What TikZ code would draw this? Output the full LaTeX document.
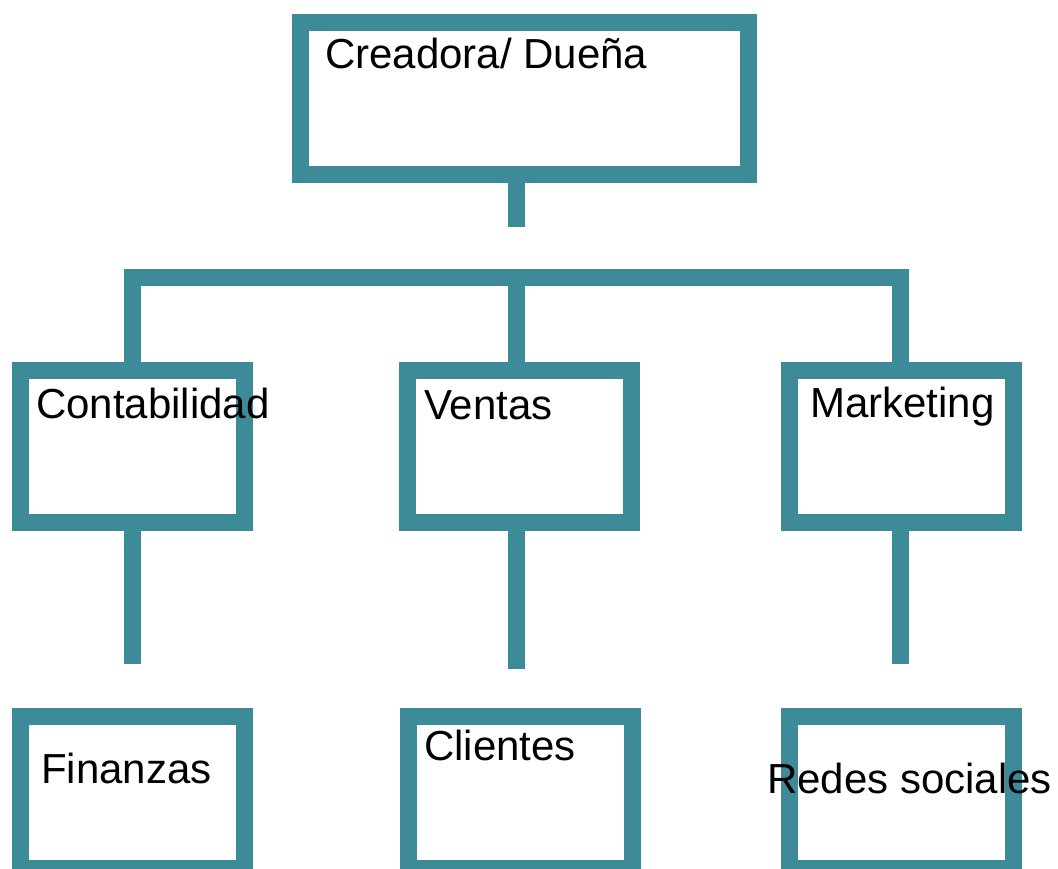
\documentclass[tikz,border=0pt]{standalone}
\usepackage{fontspec}
\setmainfont{Liberation Sans}
\definecolor{teal1}{RGB}{61,139,153}
\begin{document}
\begin{tikzpicture}[x=1pt,y=-1pt,
  box/.style={draw=teal1,line width=17pt,rectangle,inner sep=0pt,minimum width=224pt,minimum height=152pt},
  link/.style={draw=teal1,line width=17pt},
  lbl/.style={anchor=base west,inner sep=0pt,font=\fontsize{42}{48}\selectfont,text=black}]
\useasboundingbox (0,0) rectangle (1058,868);
% boxes
\node[box,minimum width=448pt] (top) at (524.5,98) {};
\node[box] (cont) at (132.5,446) {};
\node[box] (vent) at (519.5,446) {};
\node[box] (mark) at (901.5,446) {};
\node[box] (fin) at (132.5,792) {};
\node[box] (cli) at (520,792) {};
\node[box] (red) at (901.5,792) {};
% connectors
\coordinate (topend) at (516.5,227);
\coordinate (barL) at (132.5,277);
\coordinate (barM) at (516.5,277);
\coordinate (barR) at (900.5,277);
\coordinate (finend) at (132.5,664);
\coordinate (cliend) at (516.5,669);
\coordinate (redend) at (900.5,664);
\draw[link] (top.south -| topend) -- (topend);
\draw[link] (cont.north -| barL) -- (barL) -- (barR) -- (mark.north -| barR);
\draw[link] (barM) -- (vent.north -| barM);
\draw[link] (cont.south -| finend) -- (finend);
\draw[link] (vent.south -| cliend) -- (cliend);
\draw[link] (mark.south -| redend) -- (redend);
% labels
\node[lbl] (tTop) at (325,68) {Creadora/ Dueña};
\node[lbl] (tCont) at (36,418) {Contabilidad};
\node[lbl] (tVent) at (424,419) {Ventas};
\node[lbl] (tMark) at (810,417) {Marketing};
\node[lbl] (tFin) at (41,783) {Finanzas};
\node[lbl] (tCli) at (424,760) {Clientes};
\node[lbl] (tRed) at (767,793) {Redes sociales};
\end{tikzpicture}
\end{document}
